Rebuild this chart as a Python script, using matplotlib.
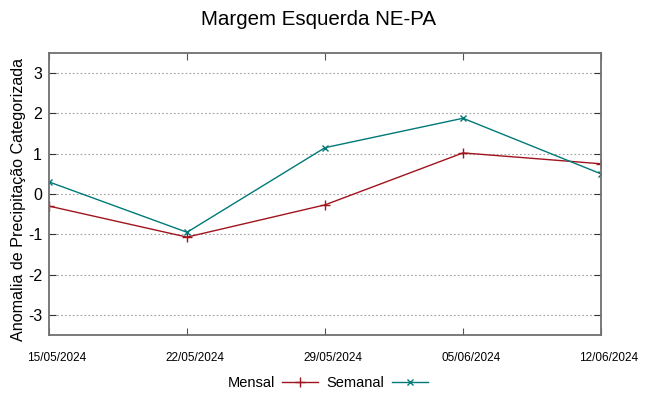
import matplotlib
matplotlib.use('Agg')
import matplotlib.pyplot as plt
import matplotlib.transforms as mtransforms

dates = ['15/05/2024', '22/05/2024', '29/05/2024', '05/06/2024', '12/06/2024']
mensal = [-0.30, -1.07, -0.27, 1.02, 0.75]
semanal = [0.30, -0.95, 1.15, 1.88, 0.50]
yticks = [-3, -2, -1, 0, 1, 2, 3]

plt.rcParams['font.family'] = ['Liberation Sans', 'DejaVu Sans']

fig = plt.figure(figsize=(6.49, 3.96), dpi=100)
ax = fig.add_axes([49 / 649, 1 - 335 / 396, 552 / 649, 282 / 396])

x = list(range(len(dates)))
ax.plot(x, mensal, color='#a0141e', lw=1, marker='+', ms=7, mew=1, label='Mensal')
ax.plot(x, semanal, color='#007a78', lw=1, marker='x', ms=5, mew=1, label='Semanal')

ax.set_xlim(0, len(dates) - 1)
ax.set_ylim(-3.5, 3.5)
ax.set_xticks(x)
ax.set_xticklabels(dates, fontsize=8.5)
ax.set_yticks(yticks)
ax.set_yticklabels([str(v) for v in yticks], fontsize=11.5)
ax.tick_params(axis='y', direction='in', right=True, length=5, color='#333333', pad=5)
ax.tick_params(axis='x', direction='in', top=True, length=5, color='#555555', pad=12)
# gnuplot-style labels sit a little to the right of their ticks
shift = mtransforms.ScaledTranslation(8 / 100, 0, fig.dpi_scale_trans)
for lab in ax.get_xticklabels():
    lab.set_transform(lab.get_transform() + shift)
ax.grid(axis='y', color='#a0a0a0', linestyle=(0, (1.5, 2)), lw=0.8)
for s in ax.spines.values():
    s.set_color('#707070')
    s.set_linewidth(1.3)

ax.set_ylabel('Anomalia de Precipitação Categorizada', fontsize=11.6)
ax.yaxis.set_label_coords(-0.042, 0.48)
fig.suptitle('Margem Esquerda NE-PA', fontsize=14.8, x=0.491, y=0.975)

leg = fig.legend(loc='lower center', bbox_to_anchor=(0.505, -0.018), ncol=2, frameon=False,
                 fontsize=10.5, markerfirst=False, handlelength=2.5, columnspacing=0.55,
                 handletextpad=0.5)

fig.savefig('out.png', dpi=100)
